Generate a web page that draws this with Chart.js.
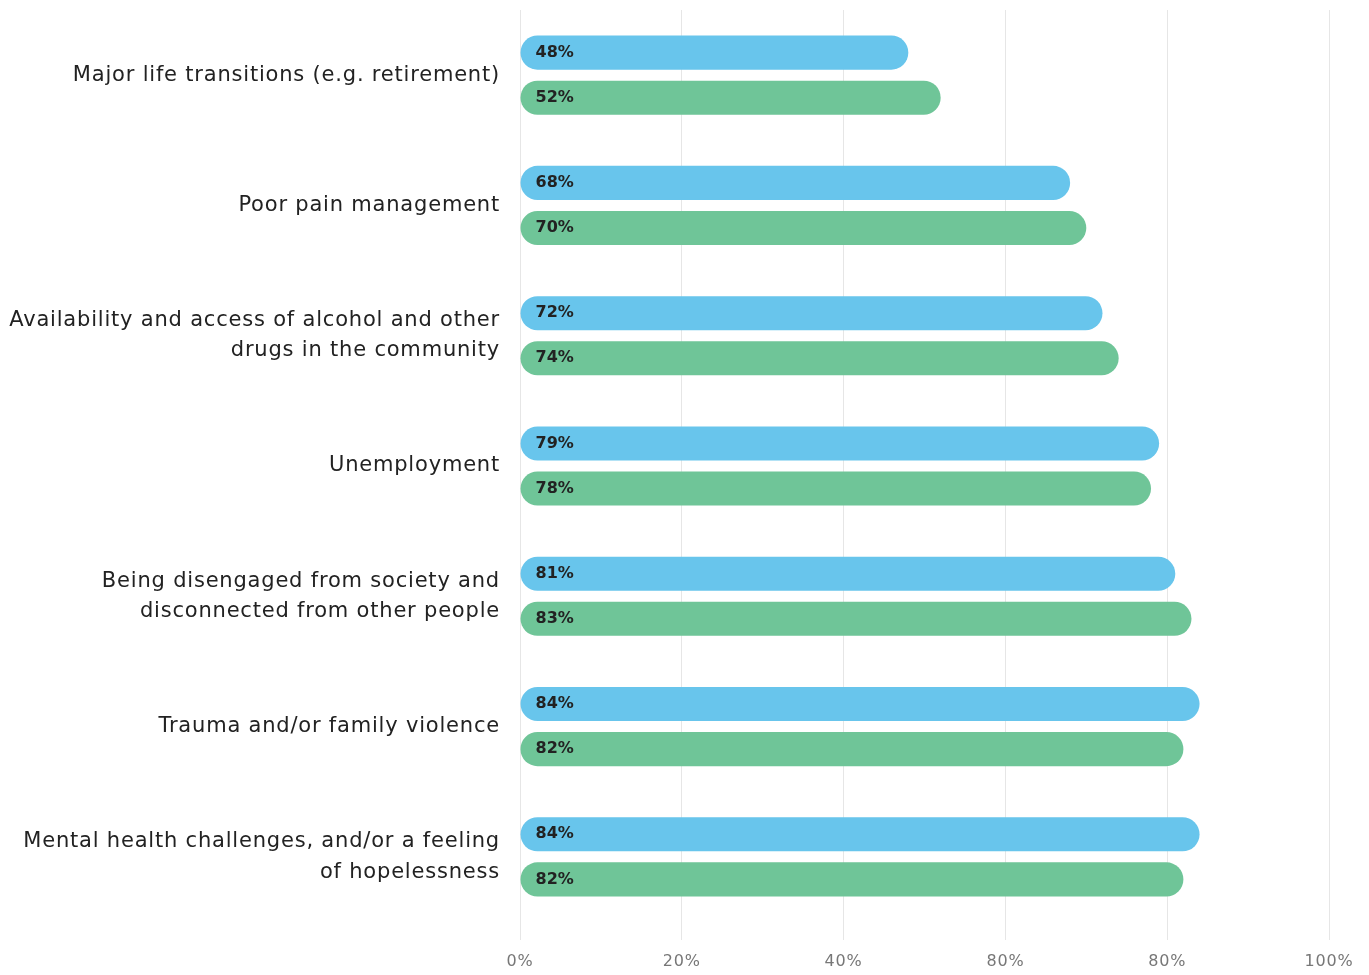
<!DOCTYPE html>
<html>
<head>
<meta charset="utf-8">
<script src="https://cdn.jsdelivr.net/npm/chart.js@4"></script>
<style>
  html, body { margin: 0; padding: 0; background: #fff; }
  #wrap { width: 1369px; height: 975px; }
</style>
</head>
<body>
<div id="wrap"><canvas id="riskChart"></canvas></div>
<script>
// Risk factors, two survey groups
const categories = [
  ['Major life transitions (e.g. retirement)'],
  ['Poor pain management'],
  ['Availability and access of alcohol and other', 'drugs in the community'],
  ['Unemployment'],
  ['Being disengaged from society and', 'disconnected from other people'],
  ['Trauma and/or family violence'],
  ['Mental health challenges, and/or a feeling', 'of hopelessness']
];
const blueValues = [48, 68, 72, 79, 81, 84, 84];
const greenValues = [52, 70, 74, 78, 83, 82, 82];
const tickLabels = ['0%', '20%', '40%', '80%', '80%', '100%'];

const FONT = '"DejaVu Sans", sans-serif';

// Slightly wider tracking for the axis text
const axisTracking = {
  id: 'axisTracking',
  beforeDraw(chart) { chart.ctx.letterSpacing = '0.8px'; },
  beforeDatasetsDraw(chart) { chart.ctx.letterSpacing = '0px'; }
};

// Draw the percentage inside each bar, near its left end
const valueLabels = {
  id: 'valueLabels',
  afterDatasetsDraw(chart) {
    const ctx = chart.ctx;
    ctx.save();
    ctx.font = 'bold 16px ' + FONT;
    ctx.fillStyle = '#222';
    ctx.textBaseline = 'middle';
    ctx.textAlign = 'left';
    chart.data.datasets.forEach((ds, i) => {
      chart.getDatasetMeta(i).data.forEach((bar, j) => {
        ctx.fillText(ds.data[j] + '%', bar.base + 15, bar.y);
      });
    });
    ctx.restore();
  }
};

const ctx = document.getElementById('riskChart').getContext('2d');
new Chart(ctx, {
  type: 'bar',
  data: {
    labels: categories,
    datasets: [
      {
        label: 'Group A',
        data: blueValues,
        backgroundColor: '#68c5ec',
        borderRadius: 17,
        borderSkipped: false,
        categoryPercentage: 0.692,
        barPercentage: 0.756
      },
      {
        label: 'Group B',
        data: greenValues,
        backgroundColor: '#6fc598',
        borderRadius: 17,
        borderSkipped: false,
        categoryPercentage: 0.692,
        barPercentage: 0.756
      }
    ]
  },
  options: {
    indexAxis: 'y',
    responsive: true,
    maintainAspectRatio: false,
    animation: false,
    layout: { padding: { top: 10, right: 40, left: 0, bottom: 0 } },
    plugins: {
      legend: { display: false },
      tooltip: { enabled: false }
    },
    scales: {
      x: {
        min: 0,
        max: 100,
        ticks: {
          stepSize: 20,
          color: '#777',
          padding: 12,
          font: { family: FONT, size: 16 },
          callback: (v, i) => tickLabels[i]
        },
        grid: {
          color: '#e6e6e6',
          lineWidth: 1,
          tickLength: 18,
          drawTicks: true
        },
        border: { display: false },
        afterFit: (scale) => {
          scale.height = 53;
          scale.paddingLeft = 0;
          scale.paddingRight = 0;
        }
      },
      y: {
        ticks: {
          color: '#222',
          padding: 20,
          font: { family: FONT, size: 21, lineHeight: 1.45 }
        },
        grid: { display: false, drawTicks: false },
        border: { display: false },
        afterFit: (scale) => {
          scale.width = 520;
          scale.paddingTop = 0;
          scale.paddingBottom = 0;
        }
      }
    }
  },
  plugins: [axisTracking, valueLabels]
});
</script>
</body>
</html>
